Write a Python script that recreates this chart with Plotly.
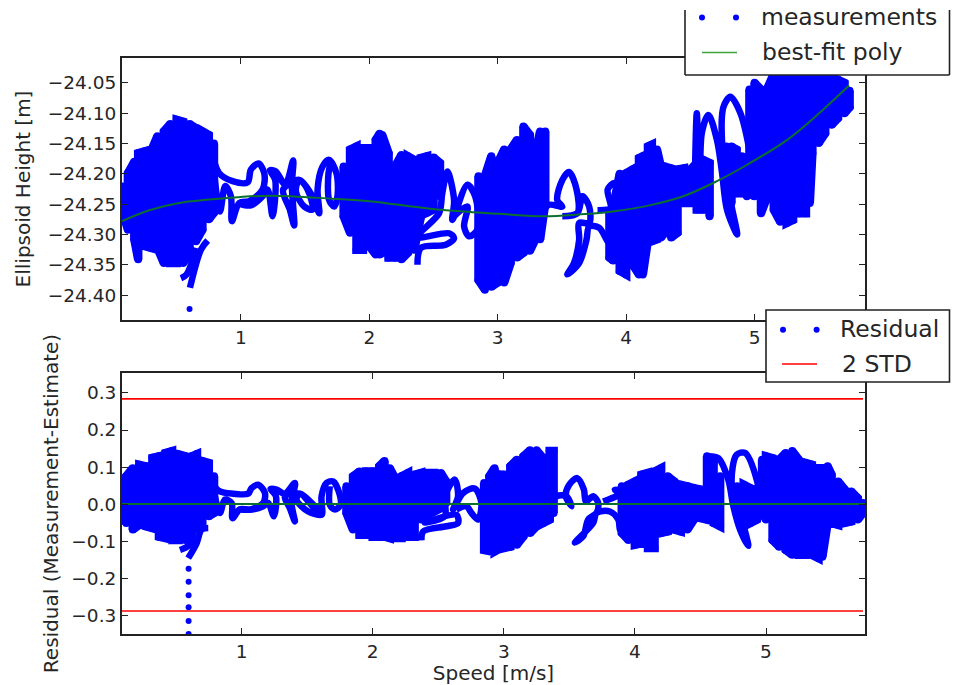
import plotly.graph_objects as go

h_a_speed = [0.08,0.12,0.17,0.20,0.25,0.30,0.35,0.40,0.45,0.50,0.55,0.60,0.65,0.70,0.75,0.79]
h_a_hi = [-24.221,-24.199,-24.180,-24.166,-24.163,-24.163,-24.138,-24.130,-24.118,-24.111,-24.114,-24.118,-24.125,-24.130,-24.136,-24.150]
h_a_lo = [-24.264,-24.292,-24.308,-24.341,-24.319,-24.322,-24.322,-24.347,-24.347,-24.347,-24.347,-24.330,-24.311,-24.292,-24.275,-24.264]
h_tail1_speed = [0.533,0.577,0.650]
h_tail1_h = [-24.372,-24.366,-24.322]
h_tail2_speed = [0.603,0.689,0.741]
h_tail2_h = [-24.388,-24.325,-24.310]
h_dot_speed = [0.60]
h_dot_h = [-24.423]
h_l1_speed = [0.767,0.831,0.935,1.052,1.078,1.137,1.182,1.169,1.065,0.987,0.930,0.922,0.878,0.837,0.792]
h_l1_h = [-24.160,-24.199,-24.212,-24.214,-24.193,-24.183,-24.199,-24.226,-24.245,-24.248,-24.278,-24.237,-24.220,-24.262,-24.199]
h_l2_speed = [0.987,1.078,1.169,1.208,1.246,1.267,1.226,1.272,1.345,1.407,1.397,1.415,1.381,1.329,1.454,1.519,1.558,1.493,1.428,1.454,1.558,1.610,1.597,1.636,1.687,1.744,1.752,1.726,1.687,1.682,1.700]
h_l2_h = [-24.249,-24.252,-24.237,-24.226,-24.270,-24.210,-24.194,-24.196,-24.218,-24.178,-24.220,-24.285,-24.259,-24.226,-24.210,-24.226,-24.259,-24.254,-24.229,-24.210,-24.237,-24.265,-24.226,-24.188,-24.177,-24.199,-24.237,-24.254,-24.243,-24.199,-24.182]
h_b_speed = [1.80,1.85,1.90,1.95,2.00,2.05,2.08,2.10,2.15,2.20,2.25,2.30,2.35,2.40,2.45,2.50,2.55]
h_b_hi = [-24.188,-24.160,-24.155,-24.158,-24.158,-24.144,-24.134,-24.136,-24.166,-24.188,-24.169,-24.171,-24.177,-24.174,-24.171,-24.173,-24.182]
h_b_lo = [-24.270,-24.297,-24.325,-24.325,-24.319,-24.333,-24.333,-24.330,-24.338,-24.338,-24.341,-24.330,-24.325,-24.272,-24.264,-24.259,-24.237]
h_l3_speed = [2.375,2.401,2.595,2.660,2.621,2.375,2.543,2.568,2.608,2.660,2.647,2.764,2.824,2.842,2.777,2.738,2.764,2.660]
h_l3_h = [-24.350,-24.322,-24.317,-24.306,-24.298,-24.304,-24.265,-24.232,-24.196,-24.243,-24.276,-24.218,-24.237,-24.292,-24.303,-24.287,-24.254,-24.270]
h_c_speed = [2.85,2.90,2.95,3.00,3.05,3.10,3.15,3.20,3.25,3.30,3.33,3.37]
h_c_hi = [-24.204,-24.204,-24.171,-24.182,-24.160,-24.160,-24.144,-24.122,-24.136,-24.160,-24.130,-24.130]
h_c_lo = [-24.375,-24.391,-24.386,-24.379,-24.379,-24.347,-24.338,-24.330,-24.327,-24.305,-24.308,-24.248]
h_l4_speed = [3.346,3.398,3.503,3.463,3.503,3.555,3.613,3.620,3.503,3.620,3.660,3.712,3.712,3.634,3.634,3.594,3.542,3.634,3.691,3.712,3.790,3.869,3.882,3.856,3.908,3.921,3.777]
h_l4_h = [-24.265,-24.251,-24.254,-24.243,-24.210,-24.197,-24.225,-24.265,-24.270,-24.265,-24.237,-24.254,-24.281,-24.281,-24.309,-24.347,-24.366,-24.347,-24.309,-24.287,-24.289,-24.314,-24.254,-24.226,-24.215,-24.254,-24.260]
h_d_speed = [3.87,3.90,3.95,4.00,4.05,4.10,4.13,4.17,4.20,4.24,4.27,4.30,4.35,4.40,4.45,4.50,4.55,4.60,4.65]
h_d_hi = [-24.265,-24.254,-24.200,-24.199,-24.193,-24.174,-24.171,-24.155,-24.152,-24.160,-24.188,-24.188,-24.191,-24.193,-24.191,-24.193,-24.182,-24.177,-24.182]
h_d_lo = [-24.338,-24.343,-24.360,-24.366,-24.349,-24.366,-24.366,-24.308,-24.311,-24.308,-24.305,-24.297,-24.305,-24.297,-24.248,-24.248,-24.259,-24.259,-24.270]
h_l5_speed = [4.537,4.550,4.576,4.589,4.641,4.707,4.746,4.785,4.864,4.812,4.746,4.759,4.812,4.890,4.955]
h_l5_h = [-24.188,-24.100,-24.260,-24.133,-24.103,-24.144,-24.197,-24.259,-24.300,-24.243,-24.144,-24.089,-24.073,-24.100,-24.155]
h_e_speed = [4.78,4.82,4.86,4.90,4.94]
h_e_hi = [-24.155,-24.155,-24.160,-24.171,-24.177]
h_e_lo = [-24.198,-24.248,-24.232,-24.232,-24.237]
h_f_speed = [4.96,5.00,5.05,5.10,5.15,5.20,5.25,5.30,5.35,5.40,5.43,5.45,5.50,5.55,5.60,5.65,5.70,5.74]
h_f_hi = [-24.061,-24.050,-24.061,-24.059,-24.035,-24.035,-24.035,-24.035,-24.035,-24.035,-24.035,-24.035,-24.035,-24.035,-24.035,-24.045,-24.050,-24.063]
h_f_lo = [-24.232,-24.237,-24.265,-24.237,-24.259,-24.279,-24.281,-24.276,-24.265,-24.265,-24.248,-24.166,-24.149,-24.133,-24.119,-24.108,-24.100,-24.090]

# best-fit polynomial
fit_speed = [0.074,0.287,0.52,0.754,1.0,1.246,1.713,2.0,2.49,3.01,3.37,3.63,3.895,4.18,4.445,4.707,4.942,5.257,5.49,5.736]
fit_h = [-24.278,-24.260,-24.248,-24.2425,-24.238,-24.236,-24.241,-24.245,-24.258,-24.266,-24.270,-24.267,-24.262,-24.252,-24.237,-24.212,-24.185,-24.1435,-24.1025,-24.0544]

# ---------- lower panel: residuals ----------
r_a_speed = [0.09,0.12,0.17,0.22,0.27,0.32,0.37,0.42,0.47,0.52,0.57,0.62,0.66,0.70,0.75,0.79]
r_a_hi = [0.057,0.075,0.097,0.106,0.102,0.125,0.129,0.138,0.143,0.134,0.129,0.129,0.135,0.116,0.111,0.075]
r_a_lo = [-0.029,-0.051,-0.069,-0.056,-0.060,-0.065,-0.088,-0.092,-0.097,-0.097,-0.097,-0.079,-0.069,-0.051,-0.033,-0.024]
r_tail1_speed = [0.530,0.593,0.644]
r_tail1_v = [-0.124,-0.113,-0.083]
r_tail2_speed = [0.593,0.657,0.695,0.746]
r_tail2_v = [-0.146,-0.106,-0.069,-0.065]
r_dot_speed = [0.596,0.596,0.596,0.596,0.596,0.596]
r_dot_v = [-0.175,-0.210,-0.246,-0.279,-0.316,-0.351]
r_l1_speed = [0.771,0.835,0.936,1.051,1.076,1.127,1.178,1.165,1.064,0.987,0.931,0.924,0.873,0.835,0.797]
r_l1_v = [0.057,0.034,0.028,0.028,0.043,0.052,0.030,0.003,-0.015,-0.014,-0.038,0.003,0.012,-0.024,0.021]
r_l2_speed = [0.987,1.076,1.165,1.203,1.246,1.262,1.221,1.267,1.330,1.407,1.381,1.407,1.368,1.330,1.445,1.508,1.572,1.610,1.508,1.419,1.445,1.610,1.610,1.648,1.699,1.749,1.755,1.711,1.673,1.673]
r_l2_v = [-0.015,-0.015,-0.006,0.003,-0.033,0.021,0.041,0.039,0.028,0.057,0.003,-0.047,-0.011,0.021,0.028,0.012,-0.011,-0.029,-0.020,0.012,0.028,-0.029,0.021,0.057,0.061,0.025,-0.002,-0.015,-0.002,0.048]
r_b_speed = [1.80,1.85,1.90,1.95,2.00,2.05,2.09,2.13,2.17,2.22,2.27,2.32,2.37,2.42,2.47,2.52,2.56]
r_b_hi = [0.048,0.075,0.088,0.088,0.088,0.102,0.116,0.097,0.070,0.075,0.084,0.079,0.084,0.084,0.084,0.084,0.061]
r_b_lo = [-0.024,-0.069,-0.083,-0.083,-0.088,-0.088,-0.088,-0.092,-0.092,-0.092,-0.088,-0.088,-0.042,-0.029,-0.020,-0.011,0.003]
r_l3_speed = [2.372,2.385,2.562,2.651,2.639,2.397,2.550,2.550,2.626,2.651,2.613,2.690,2.778,2.829,2.804,2.753,2.715,2.639]
r_l3_v = [-0.098,-0.074,-0.060,-0.051,-0.029,-0.050,-0.033,0.021,0.066,0.021,-0.015,0.030,0.042,0.003,-0.042,-0.024,-0.006,-0.015]
r_c_speed = [2.85,2.89,2.93,2.96,3.00,3.05,3.10,3.15,3.20,3.25,3.30,3.35,3.38]
r_c_hi = [0.057,0.075,0.097,0.080,0.079,0.102,0.120,0.129,0.145,0.145,0.124,0.143,0.143]
r_c_lo = [-0.124,-0.127,-0.128,-0.122,-0.119,-0.115,-0.110,-0.087,-0.078,-0.060,-0.051,-0.042,-0.024]
r_l4_speed = [3.351,3.402,3.478,3.517,3.473,3.499,3.560,3.611,3.626,3.682,3.720,3.707,3.644,3.606,3.542,3.682,3.707,3.809,3.873,3.885,3.898,3.847,3.911,3.758]
r_l4_v = [-0.006,0.021,0.021,-0.006,0.021,0.052,0.070,0.039,0.007,0.021,0.003,-0.024,-0.042,-0.087,-0.104,-0.051,-0.024,-0.020,-0.042,-0.069,0.021,0.039,0.032,0.007]
r_d_speed = [3.90,3.95,4.00,4.05,4.10,4.15,4.20,4.25,4.30,4.35,4.40,4.45,4.50,4.55,4.60,4.65]
r_d_hi = [0.048,0.052,0.061,0.079,0.084,0.088,0.097,0.075,0.061,0.052,0.048,0.043,0.039,0.129,0.111,0.075]
r_d_lo = [-0.078,-0.097,-0.110,-0.106,-0.119,-0.119,-0.078,-0.074,-0.069,-0.074,-0.069,-0.042,-0.038,-0.042,-0.051,-0.060]
r_l5_speed = [4.547,4.636,4.712,4.751,4.802,4.865,4.802,4.738,4.776,4.840,4.929,4.954,4.903]
r_l5_v = [0.129,0.124,0.066,-0.006,-0.069,-0.113,-0.024,0.057,0.133,0.138,0.066,0.003,-0.051]
r_e_speed = [4.78,4.83,4.88,4.93]
r_e_hi = [0.048,0.052,0.043,0.043]
r_e_lo = [-0.024,-0.033,-0.051,-0.042]
r_f_speed = [4.97,5.00,5.05,5.10,5.15,5.20,5.25,5.30,5.35,5.40,5.43,5.47,5.50,5.55,5.60,5.65,5.70,5.74]
r_f_hi = [0.120,0.129,0.124,0.120,0.138,0.143,0.120,0.111,0.106,0.097,0.097,0.102,0.079,0.061,0.039,0.034,0.016,0.003]
r_f_lo = [-0.024,-0.042,-0.097,-0.115,-0.124,-0.137,-0.137,-0.137,-0.137,-0.146,-0.142,-0.051,-0.051,-0.056,-0.051,-0.047,-0.042,-0.024]

std_speed = [0.088,5.74]
std_upper = [0.284,0.284]
std_lower = [-0.289,-0.289]
zero_speed = [0.088,5.755]
zero_v = [0.0,0.0]

TEXT = "#262626"
BLUE = "#0000ff"
GREEN = "#0b6f2e"
FONT = "DejaVu Sans"


def zig(speed, hi, lo):
    xs, ys = [], []
    for i, s in enumerate(speed):
        pair = (hi[i], lo[i]) if i % 2 == 0 else (lo[i], hi[i])
        xs += [s, s]
        ys += list(pair)
    return xs, ys


def join(parts):
    xs, ys = [], []
    for x, y in parts:
        xs += list(x) + [None]
        ys += list(y) + [None]
    return xs, ys


top_blob_x, top_blob_y = join([zig(h_a_speed, h_a_hi, h_a_lo), zig(h_b_speed, h_b_hi, h_b_lo), zig(h_c_speed, h_c_hi, h_c_lo),
                               zig(h_d_speed, h_d_hi, h_d_lo), zig(h_e_speed, h_e_hi, h_e_lo), zig(h_f_speed, h_f_hi, h_f_lo)])
top_loop_x, top_loop_y = join([(h_tail1_speed, h_tail1_h), (h_tail2_speed, h_tail2_h), (h_l1_speed, h_l1_h), (h_l2_speed, h_l2_h),
                               (h_l3_speed, h_l3_h), (h_l4_speed, h_l4_h), (h_l5_speed, h_l5_h)])
bot_blob_x, bot_blob_y = join([zig(r_a_speed, r_a_hi, r_a_lo), zig(r_b_speed, r_b_hi, r_b_lo), zig(r_c_speed, r_c_hi, r_c_lo),
                               zig(r_d_speed, r_d_hi, r_d_lo), zig(r_e_speed, r_e_hi, r_e_lo), zig(r_f_speed, r_f_hi, r_f_lo)])
bot_loop_x, bot_loop_y = join([(r_tail1_speed, r_tail1_v), (r_tail2_speed, r_tail2_v), (r_l1_speed, r_l1_v), (r_l2_speed, r_l2_v),
                               (r_l3_speed, r_l3_v), (r_l4_speed, r_l4_v), (r_l5_speed, r_l5_v)])

fig = go.Figure()
blob = dict(mode="lines+markers", line=dict(color=BLUE, width=8.5), marker=dict(color=BLUE, size=8), showlegend=False)
loop = dict(mode="lines", line=dict(color=BLUE, width=6.5, shape="spline", smoothing=0.9), showlegend=False)
single = dict(mode="markers", marker=dict(color=BLUE, size=6), showlegend=False)

fig.add_trace(go.Scatter(x=top_blob_x, y=top_blob_y, name="measurements", xaxis="x", yaxis="y", **blob))
fig.add_trace(go.Scatter(x=top_loop_x, y=top_loop_y, name="measurements", xaxis="x", yaxis="y", **loop))
fig.add_trace(go.Scatter(x=h_dot_speed, y=h_dot_h, name="measurements", xaxis="x", yaxis="y", **single))
fig.add_trace(go.Scatter(x=fit_speed, y=fit_h, name="best-fit poly", mode="lines", xaxis="x", yaxis="y",
                         line=dict(color=GREEN, width=2, shape="spline"), showlegend=False))
fig.add_trace(go.Scatter(x=bot_blob_x, y=bot_blob_y, name="Residual", xaxis="x2", yaxis="y2", **blob))
fig.add_trace(go.Scatter(x=bot_loop_x, y=bot_loop_y, name="Residual", xaxis="x2", yaxis="y2", **loop))
fig.add_trace(go.Scatter(x=r_dot_speed, y=r_dot_v, name="Residual", xaxis="x2", yaxis="y2", **single))
fig.add_trace(go.Scatter(x=zero_speed, y=zero_v, name="Zero", mode="lines", xaxis="x2", yaxis="y2",
                         line=dict(color=GREEN, width=2), showlegend=False))
for vals, nm in ((std_upper, "2 STD"), (std_lower, "-2 STD")):
    fig.add_trace(go.Scatter(x=std_speed, y=vals, name=nm, mode="lines", xaxis="x2", yaxis="y2",
                             line=dict(color="#ff0000", width=1.6), showlegend=False))

L, R, T, B = 122, 865, 58, 634
W, H = R - L, B - T


def xp(px):
    return (px - L) / W


def yp(py):
    return (B - py) / H


axis = dict(showline=True, linecolor="#222222", linewidth=2, mirror="allticks", ticks="inside", ticklen=6,
            tickwidth=1, tickcolor="#222222", showgrid=False, zeroline=False, automargin=False,
            tickfont=dict(family=FONT, size=18.5, color=TEXT))
title_font = dict(family=FONT, size=20, color=TEXT)

shapes, annotations = [], []


def line(x0, y0, x1, y1, color="#222222", width=1.6):
    shapes.append(dict(type="line", xref="paper", yref="paper", x0=xp(x0), y0=yp(y0), x1=xp(x1), y1=yp(y1),
                       line=dict(color=color, width=width), layer="above"))


def dot(x, y):
    r = 3
    shapes.append(dict(type="circle", xref="paper", yref="paper", x0=xp(x - r), y0=yp(y - r), x1=xp(x + r), y1=yp(y + r),
                       fillcolor=BLUE, line=dict(width=0), layer="above"))


def label(x, y, text):
    annotations.append(dict(xref="paper", yref="paper", x=xp(x), y=yp(y), text=text, showarrow=False, xanchor="left",
                            yanchor="middle", font=dict(family=FONT, size=23.5, color=TEXT)))


# upper legend (cut off at the top of the picture)
shapes.append(dict(type="rect", xref="paper", yref="paper", x0=xp(685), y0=yp(75), x1=xp(949.5), y1=yp(10),
                   fillcolor="white", line=dict(width=0), layer="above"))
line(685, 10, 685, 75)
line(949.5, 10, 949.5, 75)
line(685, 75, 949.5, 75)
dot(702, 17.5)
dot(736, 17.5)
line(702, 52.5, 737, 52.5, color="#3fa33f", width=1.6)
label(759, 17, "measurements")
label(760, 52, "best-fit poly")

# lower legend
shapes.append(dict(type="rect", xref="paper", yref="paper", x0=xp(766), y0=yp(382), x1=xp(949.5), y1=yp(310),
                   fillcolor="white", line=dict(color="#222222", width=1.6), layer="above"))
dot(783, 329.7)
dot(816.6, 329.7)
line(782, 364, 817, 364, color="#ff0000", width=1.6)
label(838, 329, "Residual")
label(840, 364, "2 STD")

fig.update_layout(
    width=963, height=685, paper_bgcolor="white", plot_bgcolor="white", showlegend=False,
    margin=dict(l=L, r=963 - R, t=T, b=685 - B, autoexpand=False),
    xaxis=dict(axis, domain=[0, 1], range=[0.074, 5.86], anchor="y", dtick=1, tick0=0),
    yaxis=dict(axis, domain=[yp(320), 1], range=[-24.441, -24.009], anchor="x", dtick=0.05, tick0=-24.05, tickformat=".2f",
               title=dict(text="Ellipsoid Height [m]", font=title_font, standoff=12)),
    xaxis2=dict(axis, domain=[0, 1], range=[0.088, 5.755], anchor="y2", dtick=1, tick0=0,
                title=dict(text="Speed [m/s]", font=title_font, standoff=2)),
    yaxis2=dict(axis, domain=[0, yp(373)], range=[-0.351, 0.354], anchor="x2", dtick=0.1, tick0=0, tickformat=".1f",
                title=dict(text="Residual (Measurement-Estimate)", font=title_font, standoff=7)),
    shapes=shapes, annotations=annotations,
)
fig.write_html("out.html", config={"displayModeBar": False},
               post_script="document.body.style.margin='0';document.body.style.overflow='hidden';")
